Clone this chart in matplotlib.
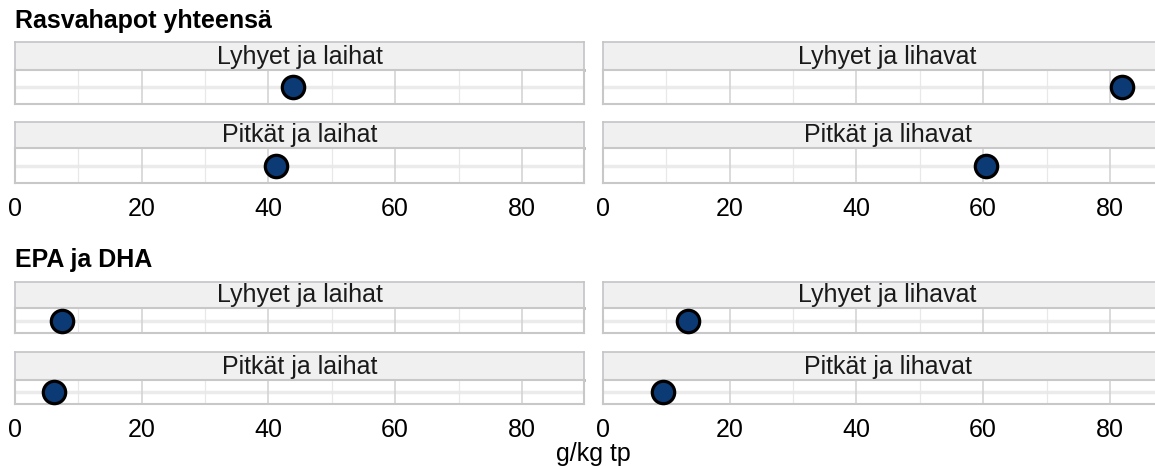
import matplotlib.pyplot as plt
from matplotlib.ticker import MultipleLocator

plt.rcParams["font.family"] = ["Liberation Sans", "DejaVu Sans"]

# data
group_titles = ["Rasvahapot yhteensä", "EPA ja DHA"]
panel_labels = ["Lyhyet ja laihat", "Lyhyet ja lihavat", "Pitkät ja laihat", "Pitkät ja lihavat"]
rasvahapot = [43.9, 81.9, 41.2, 60.5]
epa_dha = [7.4, 13.4, 6.1, 9.4]
x_ticks = [0, 20, 40, 60, 80]
x_label = "g/kg tp"

W, H = 1155, 466
fig = plt.figure(figsize=(W / 100, H / 100), dpi=100)

STRIP_FILL = "#f0f0f0"
STRIP_EDGE = "#c4c4c8"
PANEL_EDGE = "#c8c8c8"
DOT_FILL = "#0b3a75"


def px_axes(x0, y_top, x1, y_bot):
    return fig.add_axes([x0 / W, 1 - y_bot / H, (x1 - x0) / W, (y_bot - y_top) / H])


def draw_panel(x0, x1, strip_top, panel_top, panel_bot, label, value, show_ticks):
    # strip
    sax = px_axes(x0, strip_top, x1, panel_top)
    sax.set_facecolor(STRIP_FILL)
    sax.set_xticks([])
    sax.set_yticks([])
    for sp in sax.spines.values():
        sp.set_color(STRIP_EDGE)
        sp.set_linewidth(1.2)
    sax.spines["bottom"].set_color("#b4b4b8")
    sax.spines["bottom"].set_linewidth(2)
    base = 6 / (panel_top - strip_top)
    sax.text(0.5, base, label, transform=sax.transAxes, ha="center", va="baseline",
             fontsize=18, color="#1a1a1a")

    ax = px_axes(x0, panel_top, x1, panel_bot)
    ax.set_xlim(0, 89.8)
    ax.set_ylim(-0.6, 0.6)
    ax.xaxis.set_major_locator(MultipleLocator(20))
    ax.xaxis.set_minor_locator(MultipleLocator(10))
    ax.grid(which="major", axis="x", color="#d4d4d4", linewidth=1.2)
    ax.grid(which="minor", axis="x", color="#e8e8e8", linewidth=0.9)
    ax.axhline(0, color="#ebebeb", linewidth=2.5, zorder=0.5)
    ax.set_axisbelow(True)
    ax.set_yticks([])
    ax.tick_params(axis="x", which="both", length=0, labelsize=18, pad=10, colors="black")
    ax.set_xticks(x_ticks)
    if not show_ticks:
        ax.set_xticklabels([])
    for sp in ax.spines.values():
        sp.set_color(PANEL_EDGE)
        sp.set_linewidth(1.5)
    ax.scatter([value], [0], s=260, color=DOT_FILL, edgecolor="black", linewidth=2.3,
               zorder=3, clip_on=False)
    return ax


cols = [(15, 584), (603, 1172)]

rows_top = [(42, 70, 104), (122, 148, 183)]
rows_bot = [(282, 308, 333), (352, 380, 404)]

for g, (rows, values) in enumerate([(rows_top, rasvahapot), (rows_bot, epa_dha)]):
    for i, label in enumerate(panel_labels):
        r, c = divmod(i, 2)
        x0, x1 = cols[c]
        st, pt, pb = rows[r]
        draw_panel(x0, x1, st, pt, pb, label, values[i], show_ticks=(r == 1))

fig.text(15 / W, 1 - 28 / H, group_titles[0], fontsize=18, fontweight="bold",
         ha="left", va="baseline")
fig.text(15 / W, 1 - 267 / H, group_titles[1], fontsize=18, fontweight="bold",
         ha="left", va="baseline")
fig.text(593 / W, 1 - 461 / H, x_label, fontsize=18, ha="center", va="baseline")

fig.savefig("out.png", dpi=100)
